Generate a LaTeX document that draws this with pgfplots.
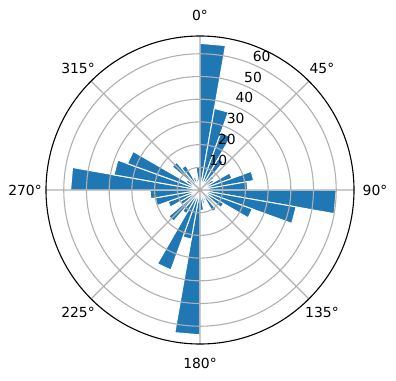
\documentclass[border=0pt]{standalone}
\usepackage{pgfplots}
\pgfplotsset{compat=1.18}
\usepgfplotslibrary{polar}
\usepackage{fontspec}
\setmainfont{DejaVu Sans}
\definecolor{mplblue}{RGB}{31,119,180}
\definecolor{gridgray}{RGB}{176,176,176}
\newcommand{\lbl}{\fontsize{13.9}{16}\selectfont}
% bar: start angle, end angle (compass degrees, clockwise from north), value
\newcommand{\wb}[3]{\addplot[fill=mplblue, draw=white, line width=1pt] coordinates {(0,0) (#1,#3) (#2,#3) (0,0)};}
\begin{document}
\begin{tikzpicture}
\begin{polaraxis}[
  at={(0,0)}, anchor=center,
  scale only axis, width=308pt, height=308pt,
  ymin=0, ymax=67.83,
  xtick={0,45,...,315}, xticklabels={},
  ytick={10,20,...,60}, yticklabels={},
  grid=major,
  major grid style={draw=gridgray, line width=1.11pt},
  major tick length=0pt,
  axis line style={black, line width=1.11pt},
  y axis line style={draw=none},
  axis on top,
  x filter/.expression={mod(450-x,360)},
]
\wb{0}{10}{64.6}
\wb{10}{20}{36.5}
\wb{20}{30}{27}
\wb{30}{40}{16}
\wb{40}{50}{8}
\wb{50}{60}{7}
\wb{60}{70}{15}
\wb{70}{80}{24}
\wb{80}{90}{21}
\wb{90}{100}{60}
\wb{100}{110}{43}
\wb{110}{120}{24.5}
\wb{120}{130}{12}
\wb{130}{140}{7}
\wb{140}{150}{11}
\wb{150}{160}{5}
\wb{160}{170}{6}
\wb{170}{180}{9}
\wb{180}{190}{63.8}
\wb{190}{200}{22}
\wb{200}{210}{37.5}
\wb{210}{220}{12}
\wb{220}{230}{18}
\wb{230}{240}{10}
\wb{240}{250}{15}
\wb{250}{260}{20}
\wb{260}{270}{22}
\wb{270}{280}{57}
\wb{280}{290}{38.5}
\wb{290}{300}{34}
\wb{300}{310}{7}
\wb{310}{320}{16}
\wb{320}{330}{12.5}
\wb{330}{340}{6}
\wb{340}{350}{5}
\wb{350}{360}{10}
\coordinate (O) at (axis cs:0,0);
\end{polaraxis}
\path (O) ++(-200pt,190pt) rectangle ++(396pt,-380pt);
% angular labels
\path (O) ++(90:175pt) node[font=\lbl] {0°};
\path (O) ++(45:172.5pt) node[font=\lbl] {45°};
\path (O) ++(0:175pt) node[font=\lbl] {90°};
\path (O) ++(-45:172.5pt) node[font=\lbl] {135°};
\path (O) ++(-90:173pt) node[font=\lbl] {180°};
\path (O) ++(-135:172.5pt) node[font=\lbl] {225°};
\path (O) ++(180:175pt) node[font=\lbl] {270°};
\path (O) ++(135:172.5pt) node[font=\lbl] {315°};
% radial labels
\foreach \r in {10,20,...,60}{
  \path (O) ++(67.5:{\r*2.27pt}) ++(9.6pt,8.2pt) node[font=\lbl, inner sep=0pt] {\r};
}
\end{tikzpicture}
\end{document}
